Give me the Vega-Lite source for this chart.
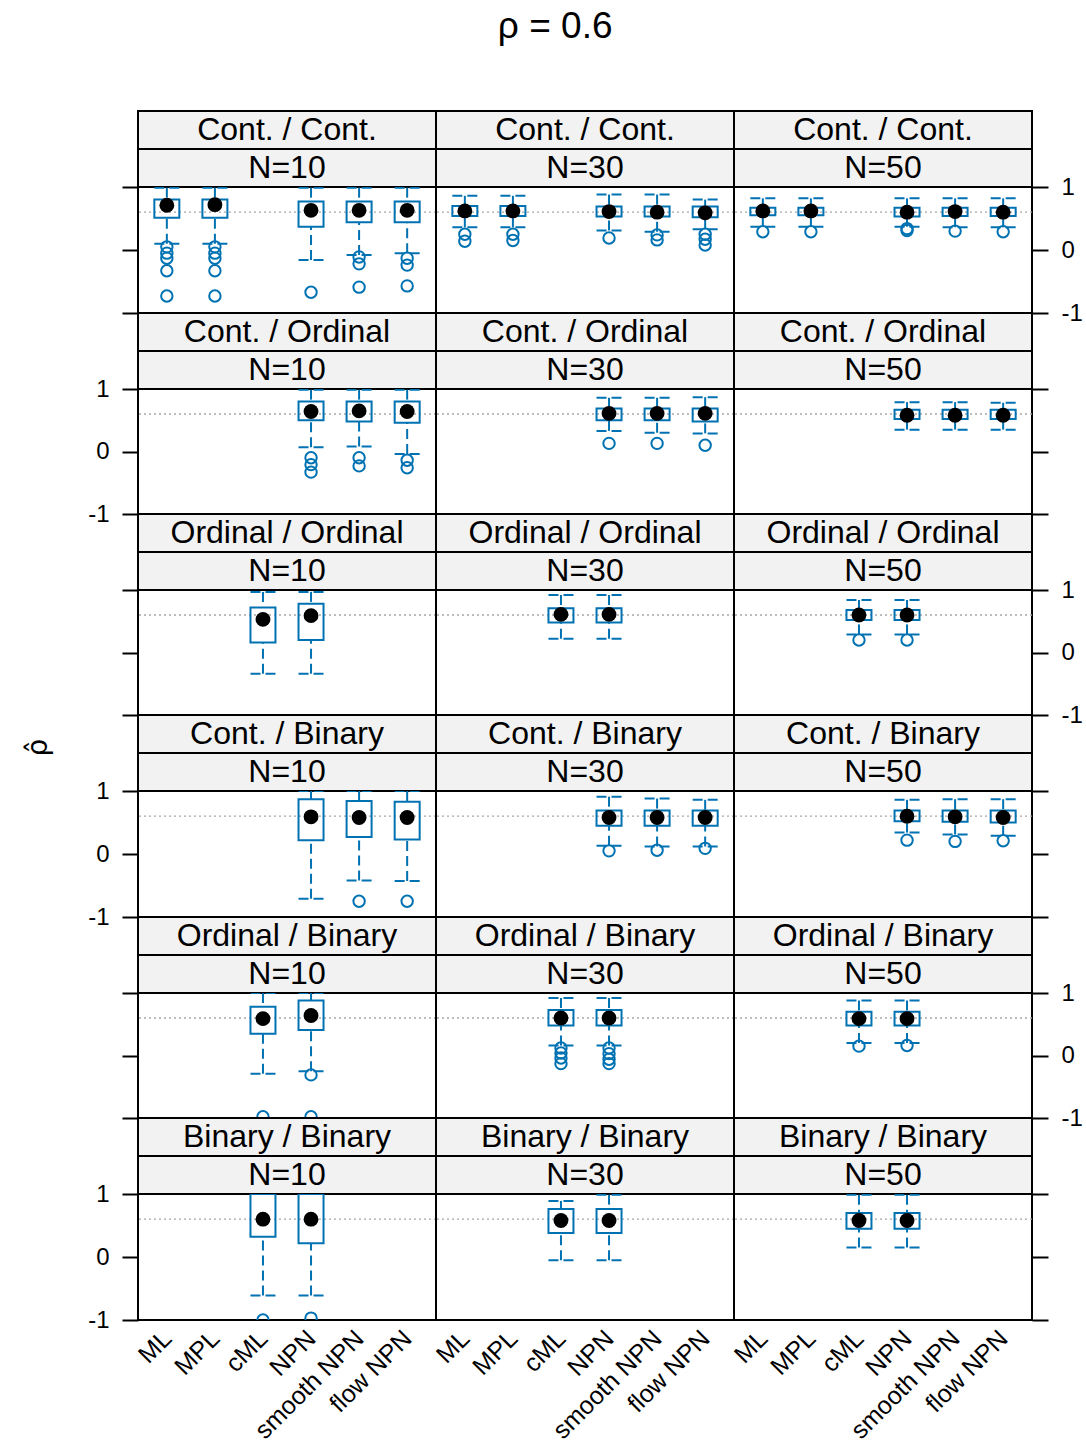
{
"$schema": "https://vega.github.io/schema/vega-lite/v6.json",
"padding": {"left": 23, "top": 8, "right": 2, "bottom": 0},
"title": {"text": "ρ = 0.6", "fontSize": 37, "fontWeight": "normal", "color": "black", "offset": 35, "baseline": "alphabetic", "anchor": "middle", "dx": 2},
"datasets": {
"boxes": [
{"p":"1-0","m":"ML","lo":0.10,"q1":0.51,"med":0.71,"q3":0.80,"hi":0.99},
{"p":"1-0","m":"MPL","lo":0.10,"q1":0.51,"med":0.72,"q3":0.80,"hi":0.99},
{"p":"1-0","m":"NPN","lo":-0.16,"q1":0.37,"med":0.63,"q3":0.77,"hi":0.99},
{"p":"1-0","m":"smooth NPN","lo":-0.08,"q1":0.44,"med":0.63,"q3":0.77,"hi":0.99},
{"p":"1-0","m":"flow NPN","lo":-0.05,"q1":0.44,"med":0.63,"q3":0.77,"hi":0.99},
{"p":"1-1","m":"ML","lo":0.36,"q1":0.54,"med":0.62,"q3":0.70,"hi":0.86},
{"p":"1-1","m":"MPL","lo":0.36,"q1":0.54,"med":0.62,"q3":0.70,"hi":0.86},
{"p":"1-1","m":"NPN","lo":0.31,"q1":0.53,"med":0.61,"q3":0.69,"hi":0.88},
{"p":"1-1","m":"smooth NPN","lo":0.29,"q1":0.53,"med":0.60,"q3":0.69,"hi":0.88},
{"p":"1-1","m":"flow NPN","lo":0.33,"q1":0.52,"med":0.59,"q3":0.69,"hi":0.80},
{"p":"1-2","m":"ML","lo":0.37,"q1":0.55,"med":0.62,"q3":0.67,"hi":0.82},
{"p":"1-2","m":"MPL","lo":0.37,"q1":0.55,"med":0.62,"q3":0.67,"hi":0.82},
{"p":"1-2","m":"NPN","lo":0.37,"q1":0.53,"med":0.60,"q3":0.67,"hi":0.82},
{"p":"1-2","m":"smooth NPN","lo":0.36,"q1":0.54,"med":0.61,"q3":0.67,"hi":0.82},
{"p":"1-2","m":"flow NPN","lo":0.36,"q1":0.54,"med":0.60,"q3":0.67,"hi":0.82},
{"p":"2-0","m":"NPN","lo":0.07,"q1":0.50,"med":0.64,"q3":0.80,"hi":0.99},
{"p":"2-0","m":"smooth NPN","lo":0.08,"q1":0.48,"med":0.65,"q3":0.80,"hi":0.99},
{"p":"2-0","m":"flow NPN","lo":-0.04,"q1":0.46,"med":0.64,"q3":0.80,"hi":0.99},
{"p":"2-1","m":"NPN","lo":0.33,"q1":0.50,"med":0.61,"q3":0.69,"hi":0.86},
{"p":"2-1","m":"smooth NPN","lo":0.30,"q1":0.50,"med":0.61,"q3":0.69,"hi":0.86},
{"p":"2-1","m":"flow NPN","lo":0.29,"q1":0.48,"med":0.61,"q3":0.69,"hi":0.87},
{"p":"2-2","m":"NPN","lo":0.35,"q1":0.52,"med":0.58,"q3":0.67,"hi":0.79},
{"p":"2-2","m":"smooth NPN","lo":0.35,"q1":0.52,"med":0.58,"q3":0.67,"hi":0.79},
{"p":"2-2","m":"flow NPN","lo":0.35,"q1":0.52,"med":0.58,"q3":0.67,"hi":0.78},
{"p":"3-0","m":"cML","lo":-0.34,"q1":0.16,"med":0.53,"q3":0.72,"hi":0.97},
{"p":"3-0","m":"NPN","lo":-0.34,"q1":0.20,"med":0.59,"q3":0.78,"hi":0.97},
{"p":"3-1","m":"cML","lo":0.22,"q1":0.48,"med":0.61,"q3":0.71,"hi":0.92},
{"p":"3-1","m":"NPN","lo":0.22,"q1":0.48,"med":0.61,"q3":0.71,"hi":0.92},
{"p":"3-2","m":"cML","lo":0.29,"q1":0.52,"med":0.60,"q3":0.68,"hi":0.84},
{"p":"3-2","m":"NPN","lo":0.29,"q1":0.52,"med":0.60,"q3":0.68,"hi":0.84},
{"p":"4-0","m":"NPN","lo":-0.71,"q1":0.22,"med":0.59,"q3":0.87,"hi":1.0},
{"p":"4-0","m":"smooth NPN","lo":-0.42,"q1":0.27,"med":0.58,"q3":0.84,"hi":1.0},
{"p":"4-0","m":"flow NPN","lo":-0.43,"q1":0.23,"med":0.58,"q3":0.83,"hi":1.0},
{"p":"4-1","m":"NPN","lo":0.13,"q1":0.45,"med":0.58,"q3":0.69,"hi":0.91},
{"p":"4-1","m":"smooth NPN","lo":0.12,"q1":0.45,"med":0.58,"q3":0.69,"hi":0.88},
{"p":"4-1","m":"flow NPN","lo":0.12,"q1":0.45,"med":0.58,"q3":0.69,"hi":0.86},
{"p":"4-2","m":"NPN","lo":0.34,"q1":0.52,"med":0.60,"q3":0.69,"hi":0.86},
{"p":"4-2","m":"smooth NPN","lo":0.31,"q1":0.51,"med":0.59,"q3":0.69,"hi":0.87},
{"p":"4-2","m":"flow NPN","lo":0.29,"q1":0.50,"med":0.58,"q3":0.69,"hi":0.87},
{"p":"5-0","m":"cML","lo":-0.29,"q1":0.35,"med":0.59,"q3":0.78,"hi":1.0},
{"p":"5-0","m":"NPN","lo":-0.25,"q1":0.41,"med":0.64,"q3":0.88,"hi":1.0},
{"p":"5-1","m":"cML","lo":0.16,"q1":0.48,"med":0.60,"q3":0.73,"hi":0.92},
{"p":"5-1","m":"NPN","lo":0.16,"q1":0.48,"med":0.60,"q3":0.73,"hi":0.92},
{"p":"5-2","m":"cML","lo":0.20,"q1":0.48,"med":0.59,"q3":0.70,"hi":0.88},
{"p":"5-2","m":"NPN","lo":0.20,"q1":0.48,"med":0.59,"q3":0.70,"hi":0.88},
{"p":"6-0","m":"cML","lo":-0.61,"q1":0.32,"med":0.60,"q3":1.0,"hi":1.0},
{"p":"6-0","m":"NPN","lo":-0.61,"q1":0.22,"med":0.60,"q3":1.0,"hi":1.0},
{"p":"6-1","m":"cML","lo":-0.05,"q1":0.38,"med":0.58,"q3":0.76,"hi":0.89},
{"p":"6-1","m":"NPN","lo":-0.05,"q1":0.38,"med":0.58,"q3":0.76,"hi":0.99},
{"p":"6-2","m":"cML","lo":0.15,"q1":0.45,"med":0.58,"q3":0.70,"hi":0.99},
{"p":"6-2","m":"NPN","lo":0.15,"q1":0.45,"med":0.58,"q3":0.70,"hi":0.99}
],
"outs": [
{"p":"1-0","m":"ML","v":0.05},{"p":"1-0","m":"ML","v":-0.05},{"p":"1-0","m":"ML","v":-0.13},{"p":"1-0","m":"ML","v":-0.33},{"p":"1-0","m":"ML","v":-0.73},
{"p":"1-0","m":"MPL","v":0.05},{"p":"1-0","m":"MPL","v":-0.05},{"p":"1-0","m":"MPL","v":-0.13},{"p":"1-0","m":"MPL","v":-0.33},{"p":"1-0","m":"MPL","v":-0.73},
{"p":"1-0","m":"NPN","v":-0.67},
{"p":"1-0","m":"smooth NPN","v":-0.11},{"p":"1-0","m":"smooth NPN","v":-0.22},{"p":"1-0","m":"smooth NPN","v":-0.59},
{"p":"1-0","m":"flow NPN","v":-0.13},{"p":"1-0","m":"flow NPN","v":-0.24},{"p":"1-0","m":"flow NPN","v":-0.57},
{"p":"1-1","m":"ML","v":0.25},{"p":"1-1","m":"ML","v":0.14},
{"p":"1-1","m":"MPL","v":0.25},{"p":"1-1","m":"MPL","v":0.15},
{"p":"1-1","m":"NPN","v":0.19},
{"p":"1-1","m":"smooth NPN","v":0.24},{"p":"1-1","m":"smooth NPN","v":0.16},
{"p":"1-1","m":"flow NPN","v":0.25},{"p":"1-1","m":"flow NPN","v":0.17},{"p":"1-1","m":"flow NPN","v":0.08},
{"p":"1-2","m":"ML","v":0.29},{"p":"1-2","m":"MPL","v":0.29},
{"p":"1-2","m":"NPN","v":0.34},{"p":"1-2","m":"NPN","v":0.31},
{"p":"1-2","m":"smooth NPN","v":0.30},{"p":"1-2","m":"flow NPN","v":0.29},
{"p":"2-0","m":"NPN","v":-0.10},{"p":"2-0","m":"NPN","v":-0.21},{"p":"2-0","m":"NPN","v":-0.33},
{"p":"2-0","m":"smooth NPN","v":-0.10},{"p":"2-0","m":"smooth NPN","v":-0.23},
{"p":"2-0","m":"flow NPN","v":-0.14},{"p":"2-0","m":"flow NPN","v":-0.26},
{"p":"2-1","m":"NPN","v":0.13},{"p":"2-1","m":"smooth NPN","v":0.13},{"p":"2-1","m":"flow NPN","v":0.10},
{"p":"3-2","m":"cML","v":0.20},{"p":"3-2","m":"NPN","v":0.20},
{"p":"4-0","m":"smooth NPN","v":-0.75},{"p":"4-0","m":"flow NPN","v":-0.75},
{"p":"4-1","m":"NPN","v":0.05},{"p":"4-1","m":"smooth NPN","v":0.06},{"p":"4-1","m":"flow NPN","v":0.09},
{"p":"4-2","m":"NPN","v":0.22},{"p":"4-2","m":"smooth NPN","v":0.20},{"p":"4-2","m":"flow NPN","v":0.21},
{"p":"5-0","m":"cML","v":-0.98},{"p":"5-0","m":"NPN","v":-0.31},{"p":"5-0","m":"NPN","v":-0.98},
{"p":"5-1","m":"cML","v":0.12},{"p":"5-1","m":"cML","v":0.04},{"p":"5-1","m":"cML","v":-0.04},{"p":"5-1","m":"cML","v":-0.13},
{"p":"5-1","m":"NPN","v":0.12},{"p":"5-1","m":"NPN","v":0.03},{"p":"5-1","m":"NPN","v":-0.06},{"p":"5-1","m":"NPN","v":-0.13},
{"p":"5-2","m":"cML","v":0.15},{"p":"5-2","m":"NPN","v":0.16},
{"p":"6-0","m":"cML","v":-1.0},{"p":"6-0","m":"NPN","v":-0.97}
]
},
"columns": 3,
"spacing": 0,
"bounds": "flush",
"concat": [
{"width":298,"height":38,"view":{"fill":"#f2f2f2","stroke":"black","strokeWidth":2},"data":{"values":[{}]},"mark":{"type":"text","text":"Cont. / Cont.","fontSize":32,"color":"black"}},
{"width":298,"height":38,"view":{"fill":"#f2f2f2","stroke":"black","strokeWidth":2},"data":{"values":[{}]},"mark":{"type":"text","text":"Cont. / Cont.","fontSize":32,"color":"black"}},
{"width":298,"height":38,"view":{"fill":"#f2f2f2","stroke":"black","strokeWidth":2},"data":{"values":[{}]},"mark":{"type":"text","text":"Cont. / Cont.","fontSize":32,"color":"black"}},
{"width":298,"height":38,"view":{"fill":"#f2f2f2","stroke":"black","strokeWidth":2},"data":{"values":[{}]},"mark":{"type":"text","text":"N=10","fontSize":32,"color":"black"}},
{"width":298,"height":38,"view":{"fill":"#f2f2f2","stroke":"black","strokeWidth":2},"data":{"values":[{}]},"mark":{"type":"text","text":"N=30","fontSize":32,"color":"black"}},
{"width":298,"height":38,"view":{"fill":"#f2f2f2","stroke":"black","strokeWidth":2},"data":{"values":[{}]},"mark":{"type":"text","text":"N=50","fontSize":32,"color":"black"}},
{"width":298,"height":126,"layer":[
{"data":{"values":[{}]},"mark":{"type":"rule","color":"#a6a6a6","strokeWidth":1.3,"strokeDash":[2,3]},"encoding":{"y":{"datum":0.6,"type":"quantitative","scale":{"domain":[-1,1],"nice":false,"zero":false},"axis":{"orient":"left","values":[-1,0,1],"labels":false,"title":null}}}},
{"data":{"name":"boxes"},"transform":[{"filter":"datum.p=='1-0'"}],"encoding":{"x":{"field":"m","type":"nominal","scale":{"type":"point","domain":["ML","MPL","cML","NPN","smooth NPN","flow NPN"],"padding":0.6},"axis":null}},"layer":[
{"mark":{"type":"rule","color":"#0072B2","strokeWidth":2,"strokeDash":[10,5],"clip":true},"encoding":{"y":{"field":"hi","type":"quantitative"},"y2":{"field":"q3"}}},
{"mark":{"type":"rule","color":"#0072B2","strokeWidth":2,"strokeDash":[10,5],"clip":true},"encoding":{"y":{"field":"lo","type":"quantitative"},"y2":{"field":"q1"}}},
{"mark":{"type":"rule","color":"#0072B2","strokeWidth":2,"strokeDash":[10,5],"xOffset":-12.5,"x2Offset":12.5,"clip":true},"encoding":{"x2":{"field":"m"},"y":{"field":"hi","type":"quantitative"}}},
{"mark":{"type":"rule","color":"#0072B2","strokeWidth":2,"strokeDash":[10,5],"xOffset":-12.5,"x2Offset":12.5,"clip":true},"encoding":{"x2":{"field":"m"},"y":{"field":"lo","type":"quantitative"}}},
{"mark":{"type":"bar","size":25,"fill":"white","fillOpacity":0,"stroke":"#0072B2","strokeWidth":2,"clip":true},"encoding":{"y":{"field":"q1","type":"quantitative"},"y2":{"field":"q3"}}},
{"mark":{"type":"point","shape":"circle","filled":true,"color":"black","opacity":1,"size":220,"clip":true},"encoding":{"y":{"field":"med","type":"quantitative"}}}
]},
{"data":{"name":"outs"},"transform":[{"filter":"datum.p=='1-0'"}],"mark":{"type":"point","shape":"circle","filled":false,"color":"#0072B2","strokeWidth":2,"opacity":1,"size":130,"clip":true},"encoding":{"x":{"field":"m","type":"nominal","axis":null},"y":{"field":"v","type":"quantitative"}}}
]},
{"width":298,"height":126,"layer":[
{"data":{"values":[{}]},"mark":{"type":"rule","color":"#a6a6a6","strokeWidth":1.3,"strokeDash":[2,3]},"encoding":{"y":{"datum":0.6,"type":"quantitative","scale":{"domain":[-1,1],"nice":false,"zero":false},"axis":null}}},
{"data":{"name":"boxes"},"transform":[{"filter":"datum.p=='1-1'"}],"encoding":{"x":{"field":"m","type":"nominal","scale":{"type":"point","domain":["ML","MPL","cML","NPN","smooth NPN","flow NPN"],"padding":0.6},"axis":null}},"layer":[
{"mark":{"type":"rule","color":"#0072B2","strokeWidth":2,"strokeDash":[10,5],"clip":true},"encoding":{"y":{"field":"hi","type":"quantitative","axis":null},"y2":{"field":"q3"}}},
{"mark":{"type":"rule","color":"#0072B2","strokeWidth":2,"strokeDash":[10,5],"clip":true},"encoding":{"y":{"field":"lo","type":"quantitative","axis":null},"y2":{"field":"q1"}}},
{"mark":{"type":"rule","color":"#0072B2","strokeWidth":2,"strokeDash":[10,5],"xOffset":-12.5,"x2Offset":12.5,"clip":true},"encoding":{"x2":{"field":"m"},"y":{"field":"hi","type":"quantitative","axis":null}}},
{"mark":{"type":"rule","color":"#0072B2","strokeWidth":2,"strokeDash":[10,5],"xOffset":-12.5,"x2Offset":12.5,"clip":true},"encoding":{"x2":{"field":"m"},"y":{"field":"lo","type":"quantitative","axis":null}}},
{"mark":{"type":"bar","size":25,"fill":"white","fillOpacity":0,"stroke":"#0072B2","strokeWidth":2,"clip":true},"encoding":{"y":{"field":"q1","type":"quantitative","axis":null},"y2":{"field":"q3"}}},
{"mark":{"type":"point","shape":"circle","filled":true,"color":"black","opacity":1,"size":220,"clip":true},"encoding":{"y":{"field":"med","type":"quantitative","axis":null}}}
]},
{"data":{"name":"outs"},"transform":[{"filter":"datum.p=='1-1'"}],"mark":{"type":"point","shape":"circle","filled":false,"color":"#0072B2","strokeWidth":2,"opacity":1,"size":130,"clip":true},"encoding":{"x":{"field":"m","type":"nominal","axis":null},"y":{"field":"v","type":"quantitative","axis":null}}}
]},
{"width":298,"height":126,"layer":[
{"data":{"values":[{}]},"mark":{"type":"rule","color":"#a6a6a6","strokeWidth":1.3,"strokeDash":[2,3]},"encoding":{"y":{"datum":0.6,"type":"quantitative","scale":{"domain":[-1,1],"nice":false,"zero":false},"axis":{"orient":"right","values":[-1,0,1],"title":null}}}},
{"data":{"name":"boxes"},"transform":[{"filter":"datum.p=='1-2'"}],"encoding":{"x":{"field":"m","type":"nominal","scale":{"type":"point","domain":["ML","MPL","cML","NPN","smooth NPN","flow NPN"],"padding":0.6},"axis":null}},"layer":[
{"mark":{"type":"rule","color":"#0072B2","strokeWidth":2,"strokeDash":[10,5],"clip":true},"encoding":{"y":{"field":"hi","type":"quantitative"},"y2":{"field":"q3"}}},
{"mark":{"type":"rule","color":"#0072B2","strokeWidth":2,"strokeDash":[10,5],"clip":true},"encoding":{"y":{"field":"lo","type":"quantitative"},"y2":{"field":"q1"}}},
{"mark":{"type":"rule","color":"#0072B2","strokeWidth":2,"strokeDash":[10,5],"xOffset":-12.5,"x2Offset":12.5,"clip":true},"encoding":{"x2":{"field":"m"},"y":{"field":"hi","type":"quantitative"}}},
{"mark":{"type":"rule","color":"#0072B2","strokeWidth":2,"strokeDash":[10,5],"xOffset":-12.5,"x2Offset":12.5,"clip":true},"encoding":{"x2":{"field":"m"},"y":{"field":"lo","type":"quantitative"}}},
{"mark":{"type":"bar","size":25,"fill":"white","fillOpacity":0,"stroke":"#0072B2","strokeWidth":2,"clip":true},"encoding":{"y":{"field":"q1","type":"quantitative"},"y2":{"field":"q3"}}},
{"mark":{"type":"point","shape":"circle","filled":true,"color":"black","opacity":1,"size":220,"clip":true},"encoding":{"y":{"field":"med","type":"quantitative"}}}
]},
{"data":{"name":"outs"},"transform":[{"filter":"datum.p=='1-2'"}],"mark":{"type":"point","shape":"circle","filled":false,"color":"#0072B2","strokeWidth":2,"opacity":1,"size":130,"clip":true},"encoding":{"x":{"field":"m","type":"nominal","axis":null},"y":{"field":"v","type":"quantitative"}}}
]},
{"width":298,"height":38,"view":{"fill":"#f2f2f2","stroke":"black","strokeWidth":2},"data":{"values":[{}]},"mark":{"type":"text","text":"Cont. / Ordinal","fontSize":32,"color":"black"}},
{"width":298,"height":38,"view":{"fill":"#f2f2f2","stroke":"black","strokeWidth":2},"data":{"values":[{}]},"mark":{"type":"text","text":"Cont. / Ordinal","fontSize":32,"color":"black"}},
{"width":298,"height":38,"view":{"fill":"#f2f2f2","stroke":"black","strokeWidth":2},"data":{"values":[{}]},"mark":{"type":"text","text":"Cont. / Ordinal","fontSize":32,"color":"black"}},
{"width":298,"height":38,"view":{"fill":"#f2f2f2","stroke":"black","strokeWidth":2},"data":{"values":[{}]},"mark":{"type":"text","text":"N=10","fontSize":32,"color":"black"}},
{"width":298,"height":38,"view":{"fill":"#f2f2f2","stroke":"black","strokeWidth":2},"data":{"values":[{}]},"mark":{"type":"text","text":"N=30","fontSize":32,"color":"black"}},
{"width":298,"height":38,"view":{"fill":"#f2f2f2","stroke":"black","strokeWidth":2},"data":{"values":[{}]},"mark":{"type":"text","text":"N=50","fontSize":32,"color":"black"}},
{"width":298,"height":125,"layer":[
{"data":{"values":[{}]},"mark":{"type":"rule","color":"#a6a6a6","strokeWidth":1.3,"strokeDash":[2,3]},"encoding":{"y":{"datum":0.6,"type":"quantitative","scale":{"domain":[-1,1],"nice":false,"zero":false},"axis":{"orient":"left","values":[-1,0,1],"title":null}}}},
{"data":{"name":"boxes"},"transform":[{"filter":"datum.p=='2-0'"}],"encoding":{"x":{"field":"m","type":"nominal","scale":{"type":"point","domain":["ML","MPL","cML","NPN","smooth NPN","flow NPN"],"padding":0.6},"axis":null}},"layer":[
{"mark":{"type":"rule","color":"#0072B2","strokeWidth":2,"strokeDash":[10,5],"clip":true},"encoding":{"y":{"field":"hi","type":"quantitative"},"y2":{"field":"q3"}}},
{"mark":{"type":"rule","color":"#0072B2","strokeWidth":2,"strokeDash":[10,5],"clip":true},"encoding":{"y":{"field":"lo","type":"quantitative"},"y2":{"field":"q1"}}},
{"mark":{"type":"rule","color":"#0072B2","strokeWidth":2,"strokeDash":[10,5],"xOffset":-12.5,"x2Offset":12.5,"clip":true},"encoding":{"x2":{"field":"m"},"y":{"field":"hi","type":"quantitative"}}},
{"mark":{"type":"rule","color":"#0072B2","strokeWidth":2,"strokeDash":[10,5],"xOffset":-12.5,"x2Offset":12.5,"clip":true},"encoding":{"x2":{"field":"m"},"y":{"field":"lo","type":"quantitative"}}},
{"mark":{"type":"bar","size":25,"fill":"white","fillOpacity":0,"stroke":"#0072B2","strokeWidth":2,"clip":true},"encoding":{"y":{"field":"q1","type":"quantitative"},"y2":{"field":"q3"}}},
{"mark":{"type":"point","shape":"circle","filled":true,"color":"black","opacity":1,"size":220,"clip":true},"encoding":{"y":{"field":"med","type":"quantitative"}}}
]},
{"data":{"name":"outs"},"transform":[{"filter":"datum.p=='2-0'"}],"mark":{"type":"point","shape":"circle","filled":false,"color":"#0072B2","strokeWidth":2,"opacity":1,"size":130,"clip":true},"encoding":{"x":{"field":"m","type":"nominal","axis":null},"y":{"field":"v","type":"quantitative"}}}
]},
{"width":298,"height":125,"layer":[
{"data":{"values":[{}]},"mark":{"type":"rule","color":"#a6a6a6","strokeWidth":1.3,"strokeDash":[2,3]},"encoding":{"y":{"datum":0.6,"type":"quantitative","scale":{"domain":[-1,1],"nice":false,"zero":false},"axis":null}}},
{"data":{"name":"boxes"},"transform":[{"filter":"datum.p=='2-1'"}],"encoding":{"x":{"field":"m","type":"nominal","scale":{"type":"point","domain":["ML","MPL","cML","NPN","smooth NPN","flow NPN"],"padding":0.6},"axis":null}},"layer":[
{"mark":{"type":"rule","color":"#0072B2","strokeWidth":2,"strokeDash":[10,5],"clip":true},"encoding":{"y":{"field":"hi","type":"quantitative","axis":null},"y2":{"field":"q3"}}},
{"mark":{"type":"rule","color":"#0072B2","strokeWidth":2,"strokeDash":[10,5],"clip":true},"encoding":{"y":{"field":"lo","type":"quantitative","axis":null},"y2":{"field":"q1"}}},
{"mark":{"type":"rule","color":"#0072B2","strokeWidth":2,"strokeDash":[10,5],"xOffset":-12.5,"x2Offset":12.5,"clip":true},"encoding":{"x2":{"field":"m"},"y":{"field":"hi","type":"quantitative","axis":null}}},
{"mark":{"type":"rule","color":"#0072B2","strokeWidth":2,"strokeDash":[10,5],"xOffset":-12.5,"x2Offset":12.5,"clip":true},"encoding":{"x2":{"field":"m"},"y":{"field":"lo","type":"quantitative","axis":null}}},
{"mark":{"type":"bar","size":25,"fill":"white","fillOpacity":0,"stroke":"#0072B2","strokeWidth":2,"clip":true},"encoding":{"y":{"field":"q1","type":"quantitative","axis":null},"y2":{"field":"q3"}}},
{"mark":{"type":"point","shape":"circle","filled":true,"color":"black","opacity":1,"size":220,"clip":true},"encoding":{"y":{"field":"med","type":"quantitative","axis":null}}}
]},
{"data":{"name":"outs"},"transform":[{"filter":"datum.p=='2-1'"}],"mark":{"type":"point","shape":"circle","filled":false,"color":"#0072B2","strokeWidth":2,"opacity":1,"size":130,"clip":true},"encoding":{"x":{"field":"m","type":"nominal","axis":null},"y":{"field":"v","type":"quantitative","axis":null}}}
]},
{"width":298,"height":125,"layer":[
{"data":{"values":[{}]},"mark":{"type":"rule","color":"#a6a6a6","strokeWidth":1.3,"strokeDash":[2,3]},"encoding":{"y":{"datum":0.6,"type":"quantitative","scale":{"domain":[-1,1],"nice":false,"zero":false},"axis":{"orient":"right","values":[-1,0,1],"labels":false,"title":null}}}},
{"data":{"name":"boxes"},"transform":[{"filter":"datum.p=='2-2'"}],"encoding":{"x":{"field":"m","type":"nominal","scale":{"type":"point","domain":["ML","MPL","cML","NPN","smooth NPN","flow NPN"],"padding":0.6},"axis":null}},"layer":[
{"mark":{"type":"rule","color":"#0072B2","strokeWidth":2,"strokeDash":[10,5],"clip":true},"encoding":{"y":{"field":"hi","type":"quantitative"},"y2":{"field":"q3"}}},
{"mark":{"type":"rule","color":"#0072B2","strokeWidth":2,"strokeDash":[10,5],"clip":true},"encoding":{"y":{"field":"lo","type":"quantitative"},"y2":{"field":"q1"}}},
{"mark":{"type":"rule","color":"#0072B2","strokeWidth":2,"strokeDash":[10,5],"xOffset":-12.5,"x2Offset":12.5,"clip":true},"encoding":{"x2":{"field":"m"},"y":{"field":"hi","type":"quantitative"}}},
{"mark":{"type":"rule","color":"#0072B2","strokeWidth":2,"strokeDash":[10,5],"xOffset":-12.5,"x2Offset":12.5,"clip":true},"encoding":{"x2":{"field":"m"},"y":{"field":"lo","type":"quantitative"}}},
{"mark":{"type":"bar","size":25,"fill":"white","fillOpacity":0,"stroke":"#0072B2","strokeWidth":2,"clip":true},"encoding":{"y":{"field":"q1","type":"quantitative"},"y2":{"field":"q3"}}},
{"mark":{"type":"point","shape":"circle","filled":true,"color":"black","opacity":1,"size":220,"clip":true},"encoding":{"y":{"field":"med","type":"quantitative"}}}
]},
{"data":{"name":"outs"},"transform":[{"filter":"datum.p=='2-2'"}],"mark":{"type":"point","shape":"circle","filled":false,"color":"#0072B2","strokeWidth":2,"opacity":1,"size":130,"clip":true},"encoding":{"x":{"field":"m","type":"nominal","axis":null},"y":{"field":"v","type":"quantitative"}}}
]},
{"width":298,"height":38,"view":{"fill":"#f2f2f2","stroke":"black","strokeWidth":2},"data":{"values":[{}]},"mark":{"type":"text","text":"Ordinal / Ordinal","fontSize":32,"color":"black"}},
{"width":298,"height":38,"view":{"fill":"#f2f2f2","stroke":"black","strokeWidth":2},"data":{"values":[{}]},"mark":{"type":"text","text":"Ordinal / Ordinal","fontSize":32,"color":"black"}},
{"width":298,"height":38,"view":{"fill":"#f2f2f2","stroke":"black","strokeWidth":2},"data":{"values":[{}]},"mark":{"type":"text","text":"Ordinal / Ordinal","fontSize":32,"color":"black"}},
{"width":298,"height":38,"view":{"fill":"#f2f2f2","stroke":"black","strokeWidth":2},"data":{"values":[{}]},"mark":{"type":"text","text":"N=10","fontSize":32,"color":"black"}},
{"width":298,"height":38,"view":{"fill":"#f2f2f2","stroke":"black","strokeWidth":2},"data":{"values":[{}]},"mark":{"type":"text","text":"N=30","fontSize":32,"color":"black"}},
{"width":298,"height":38,"view":{"fill":"#f2f2f2","stroke":"black","strokeWidth":2},"data":{"values":[{}]},"mark":{"type":"text","text":"N=50","fontSize":32,"color":"black"}},
{"width":298,"height":125,"layer":[
{"data":{"values":[{}]},"mark":{"type":"rule","color":"#a6a6a6","strokeWidth":1.3,"strokeDash":[2,3]},"encoding":{"y":{"datum":0.6,"type":"quantitative","scale":{"domain":[-1,1],"nice":false,"zero":false},"axis":{"orient":"left","values":[-1,0,1],"labels":false,"title":null}}}},
{"data":{"name":"boxes"},"transform":[{"filter":"datum.p=='3-0'"}],"encoding":{"x":{"field":"m","type":"nominal","scale":{"type":"point","domain":["ML","MPL","cML","NPN","smooth NPN","flow NPN"],"padding":0.6},"axis":null}},"layer":[
{"mark":{"type":"rule","color":"#0072B2","strokeWidth":2,"strokeDash":[10,5],"clip":true},"encoding":{"y":{"field":"hi","type":"quantitative"},"y2":{"field":"q3"}}},
{"mark":{"type":"rule","color":"#0072B2","strokeWidth":2,"strokeDash":[10,5],"clip":true},"encoding":{"y":{"field":"lo","type":"quantitative"},"y2":{"field":"q1"}}},
{"mark":{"type":"rule","color":"#0072B2","strokeWidth":2,"strokeDash":[10,5],"xOffset":-12.5,"x2Offset":12.5,"clip":true},"encoding":{"x2":{"field":"m"},"y":{"field":"hi","type":"quantitative"}}},
{"mark":{"type":"rule","color":"#0072B2","strokeWidth":2,"strokeDash":[10,5],"xOffset":-12.5,"x2Offset":12.5,"clip":true},"encoding":{"x2":{"field":"m"},"y":{"field":"lo","type":"quantitative"}}},
{"mark":{"type":"bar","size":25,"fill":"white","fillOpacity":0,"stroke":"#0072B2","strokeWidth":2,"clip":true},"encoding":{"y":{"field":"q1","type":"quantitative"},"y2":{"field":"q3"}}},
{"mark":{"type":"point","shape":"circle","filled":true,"color":"black","opacity":1,"size":220,"clip":true},"encoding":{"y":{"field":"med","type":"quantitative"}}}
]},
{"data":{"name":"outs"},"transform":[{"filter":"datum.p=='3-0'"}],"mark":{"type":"point","shape":"circle","filled":false,"color":"#0072B2","strokeWidth":2,"opacity":1,"size":130,"clip":true},"encoding":{"x":{"field":"m","type":"nominal","axis":null},"y":{"field":"v","type":"quantitative"}}}
]},
{"width":298,"height":125,"layer":[
{"data":{"values":[{}]},"mark":{"type":"rule","color":"#a6a6a6","strokeWidth":1.3,"strokeDash":[2,3]},"encoding":{"y":{"datum":0.6,"type":"quantitative","scale":{"domain":[-1,1],"nice":false,"zero":false},"axis":null}}},
{"data":{"name":"boxes"},"transform":[{"filter":"datum.p=='3-1'"}],"encoding":{"x":{"field":"m","type":"nominal","scale":{"type":"point","domain":["ML","MPL","cML","NPN","smooth NPN","flow NPN"],"padding":0.6},"axis":null}},"layer":[
{"mark":{"type":"rule","color":"#0072B2","strokeWidth":2,"strokeDash":[10,5],"clip":true},"encoding":{"y":{"field":"hi","type":"quantitative","axis":null},"y2":{"field":"q3"}}},
{"mark":{"type":"rule","color":"#0072B2","strokeWidth":2,"strokeDash":[10,5],"clip":true},"encoding":{"y":{"field":"lo","type":"quantitative","axis":null},"y2":{"field":"q1"}}},
{"mark":{"type":"rule","color":"#0072B2","strokeWidth":2,"strokeDash":[10,5],"xOffset":-12.5,"x2Offset":12.5,"clip":true},"encoding":{"x2":{"field":"m"},"y":{"field":"hi","type":"quantitative","axis":null}}},
{"mark":{"type":"rule","color":"#0072B2","strokeWidth":2,"strokeDash":[10,5],"xOffset":-12.5,"x2Offset":12.5,"clip":true},"encoding":{"x2":{"field":"m"},"y":{"field":"lo","type":"quantitative","axis":null}}},
{"mark":{"type":"bar","size":25,"fill":"white","fillOpacity":0,"stroke":"#0072B2","strokeWidth":2,"clip":true},"encoding":{"y":{"field":"q1","type":"quantitative","axis":null},"y2":{"field":"q3"}}},
{"mark":{"type":"point","shape":"circle","filled":true,"color":"black","opacity":1,"size":220,"clip":true},"encoding":{"y":{"field":"med","type":"quantitative","axis":null}}}
]},
{"data":{"name":"outs"},"transform":[{"filter":"datum.p=='3-1'"}],"mark":{"type":"point","shape":"circle","filled":false,"color":"#0072B2","strokeWidth":2,"opacity":1,"size":130,"clip":true},"encoding":{"x":{"field":"m","type":"nominal","axis":null},"y":{"field":"v","type":"quantitative","axis":null}}}
]},
{"width":298,"height":125,"layer":[
{"data":{"values":[{}]},"mark":{"type":"rule","color":"#a6a6a6","strokeWidth":1.3,"strokeDash":[2,3]},"encoding":{"y":{"datum":0.6,"type":"quantitative","scale":{"domain":[-1,1],"nice":false,"zero":false},"axis":{"orient":"right","values":[-1,0,1],"title":null}}}},
{"data":{"name":"boxes"},"transform":[{"filter":"datum.p=='3-2'"}],"encoding":{"x":{"field":"m","type":"nominal","scale":{"type":"point","domain":["ML","MPL","cML","NPN","smooth NPN","flow NPN"],"padding":0.6},"axis":null}},"layer":[
{"mark":{"type":"rule","color":"#0072B2","strokeWidth":2,"strokeDash":[10,5],"clip":true},"encoding":{"y":{"field":"hi","type":"quantitative"},"y2":{"field":"q3"}}},
{"mark":{"type":"rule","color":"#0072B2","strokeWidth":2,"strokeDash":[10,5],"clip":true},"encoding":{"y":{"field":"lo","type":"quantitative"},"y2":{"field":"q1"}}},
{"mark":{"type":"rule","color":"#0072B2","strokeWidth":2,"strokeDash":[10,5],"xOffset":-12.5,"x2Offset":12.5,"clip":true},"encoding":{"x2":{"field":"m"},"y":{"field":"hi","type":"quantitative"}}},
{"mark":{"type":"rule","color":"#0072B2","strokeWidth":2,"strokeDash":[10,5],"xOffset":-12.5,"x2Offset":12.5,"clip":true},"encoding":{"x2":{"field":"m"},"y":{"field":"lo","type":"quantitative"}}},
{"mark":{"type":"bar","size":25,"fill":"white","fillOpacity":0,"stroke":"#0072B2","strokeWidth":2,"clip":true},"encoding":{"y":{"field":"q1","type":"quantitative"},"y2":{"field":"q3"}}},
{"mark":{"type":"point","shape":"circle","filled":true,"color":"black","opacity":1,"size":220,"clip":true},"encoding":{"y":{"field":"med","type":"quantitative"}}}
]},
{"data":{"name":"outs"},"transform":[{"filter":"datum.p=='3-2'"}],"mark":{"type":"point","shape":"circle","filled":false,"color":"#0072B2","strokeWidth":2,"opacity":1,"size":130,"clip":true},"encoding":{"x":{"field":"m","type":"nominal","axis":null},"y":{"field":"v","type":"quantitative"}}}
]},
{"width":298,"height":38,"view":{"fill":"#f2f2f2","stroke":"black","strokeWidth":2},"data":{"values":[{}]},"mark":{"type":"text","text":"Cont. / Binary","fontSize":32,"color":"black"}},
{"width":298,"height":38,"view":{"fill":"#f2f2f2","stroke":"black","strokeWidth":2},"data":{"values":[{}]},"mark":{"type":"text","text":"Cont. / Binary","fontSize":32,"color":"black"}},
{"width":298,"height":38,"view":{"fill":"#f2f2f2","stroke":"black","strokeWidth":2},"data":{"values":[{}]},"mark":{"type":"text","text":"Cont. / Binary","fontSize":32,"color":"black"}},
{"width":298,"height":38,"view":{"fill":"#f2f2f2","stroke":"black","strokeWidth":2},"data":{"values":[{}]},"mark":{"type":"text","text":"N=10","fontSize":32,"color":"black"}},
{"width":298,"height":38,"view":{"fill":"#f2f2f2","stroke":"black","strokeWidth":2},"data":{"values":[{}]},"mark":{"type":"text","text":"N=30","fontSize":32,"color":"black"}},
{"width":298,"height":38,"view":{"fill":"#f2f2f2","stroke":"black","strokeWidth":2},"data":{"values":[{}]},"mark":{"type":"text","text":"N=50","fontSize":32,"color":"black"}},
{"width":298,"height":126,"layer":[
{"data":{"values":[{}]},"mark":{"type":"rule","color":"#a6a6a6","strokeWidth":1.3,"strokeDash":[2,3]},"encoding":{"y":{"datum":0.6,"type":"quantitative","scale":{"domain":[-1,1],"nice":false,"zero":false},"axis":{"orient":"left","values":[-1,0,1],"title":"ρ̂","titleFont":"DejaVu Sans","titleFontSize":28,"titleFontWeight":"normal","titleColor":"black","titleAngle":-90,"titleX":-100,"titleY":-44,"titleAlign":"center","titleBaseline":"middle"}}}},
{"data":{"name":"boxes"},"transform":[{"filter":"datum.p=='4-0'"}],"encoding":{"x":{"field":"m","type":"nominal","scale":{"type":"point","domain":["ML","MPL","cML","NPN","smooth NPN","flow NPN"],"padding":0.6},"axis":null}},"layer":[
{"mark":{"type":"rule","color":"#0072B2","strokeWidth":2,"strokeDash":[10,5],"clip":true},"encoding":{"y":{"field":"hi","type":"quantitative"},"y2":{"field":"q3"}}},
{"mark":{"type":"rule","color":"#0072B2","strokeWidth":2,"strokeDash":[10,5],"clip":true},"encoding":{"y":{"field":"lo","type":"quantitative"},"y2":{"field":"q1"}}},
{"mark":{"type":"rule","color":"#0072B2","strokeWidth":2,"strokeDash":[10,5],"xOffset":-12.5,"x2Offset":12.5,"clip":true},"encoding":{"x2":{"field":"m"},"y":{"field":"hi","type":"quantitative"}}},
{"mark":{"type":"rule","color":"#0072B2","strokeWidth":2,"strokeDash":[10,5],"xOffset":-12.5,"x2Offset":12.5,"clip":true},"encoding":{"x2":{"field":"m"},"y":{"field":"lo","type":"quantitative"}}},
{"mark":{"type":"bar","size":25,"fill":"white","fillOpacity":0,"stroke":"#0072B2","strokeWidth":2,"clip":true},"encoding":{"y":{"field":"q1","type":"quantitative"},"y2":{"field":"q3"}}},
{"mark":{"type":"point","shape":"circle","filled":true,"color":"black","opacity":1,"size":220,"clip":true},"encoding":{"y":{"field":"med","type":"quantitative"}}}
]},
{"data":{"name":"outs"},"transform":[{"filter":"datum.p=='4-0'"}],"mark":{"type":"point","shape":"circle","filled":false,"color":"#0072B2","strokeWidth":2,"opacity":1,"size":130,"clip":true},"encoding":{"x":{"field":"m","type":"nominal","axis":null},"y":{"field":"v","type":"quantitative"}}}
]},
{"width":298,"height":126,"layer":[
{"data":{"values":[{}]},"mark":{"type":"rule","color":"#a6a6a6","strokeWidth":1.3,"strokeDash":[2,3]},"encoding":{"y":{"datum":0.6,"type":"quantitative","scale":{"domain":[-1,1],"nice":false,"zero":false},"axis":null}}},
{"data":{"name":"boxes"},"transform":[{"filter":"datum.p=='4-1'"}],"encoding":{"x":{"field":"m","type":"nominal","scale":{"type":"point","domain":["ML","MPL","cML","NPN","smooth NPN","flow NPN"],"padding":0.6},"axis":null}},"layer":[
{"mark":{"type":"rule","color":"#0072B2","strokeWidth":2,"strokeDash":[10,5],"clip":true},"encoding":{"y":{"field":"hi","type":"quantitative","axis":null},"y2":{"field":"q3"}}},
{"mark":{"type":"rule","color":"#0072B2","strokeWidth":2,"strokeDash":[10,5],"clip":true},"encoding":{"y":{"field":"lo","type":"quantitative","axis":null},"y2":{"field":"q1"}}},
{"mark":{"type":"rule","color":"#0072B2","strokeWidth":2,"strokeDash":[10,5],"xOffset":-12.5,"x2Offset":12.5,"clip":true},"encoding":{"x2":{"field":"m"},"y":{"field":"hi","type":"quantitative","axis":null}}},
{"mark":{"type":"rule","color":"#0072B2","strokeWidth":2,"strokeDash":[10,5],"xOffset":-12.5,"x2Offset":12.5,"clip":true},"encoding":{"x2":{"field":"m"},"y":{"field":"lo","type":"quantitative","axis":null}}},
{"mark":{"type":"bar","size":25,"fill":"white","fillOpacity":0,"stroke":"#0072B2","strokeWidth":2,"clip":true},"encoding":{"y":{"field":"q1","type":"quantitative","axis":null},"y2":{"field":"q3"}}},
{"mark":{"type":"point","shape":"circle","filled":true,"color":"black","opacity":1,"size":220,"clip":true},"encoding":{"y":{"field":"med","type":"quantitative","axis":null}}}
]},
{"data":{"name":"outs"},"transform":[{"filter":"datum.p=='4-1'"}],"mark":{"type":"point","shape":"circle","filled":false,"color":"#0072B2","strokeWidth":2,"opacity":1,"size":130,"clip":true},"encoding":{"x":{"field":"m","type":"nominal","axis":null},"y":{"field":"v","type":"quantitative","axis":null}}}
]},
{"width":298,"height":126,"layer":[
{"data":{"values":[{}]},"mark":{"type":"rule","color":"#a6a6a6","strokeWidth":1.3,"strokeDash":[2,3]},"encoding":{"y":{"datum":0.6,"type":"quantitative","scale":{"domain":[-1,1],"nice":false,"zero":false},"axis":{"orient":"right","values":[-1,0,1],"labels":false,"title":null}}}},
{"data":{"name":"boxes"},"transform":[{"filter":"datum.p=='4-2'"}],"encoding":{"x":{"field":"m","type":"nominal","scale":{"type":"point","domain":["ML","MPL","cML","NPN","smooth NPN","flow NPN"],"padding":0.6},"axis":null}},"layer":[
{"mark":{"type":"rule","color":"#0072B2","strokeWidth":2,"strokeDash":[10,5],"clip":true},"encoding":{"y":{"field":"hi","type":"quantitative"},"y2":{"field":"q3"}}},
{"mark":{"type":"rule","color":"#0072B2","strokeWidth":2,"strokeDash":[10,5],"clip":true},"encoding":{"y":{"field":"lo","type":"quantitative"},"y2":{"field":"q1"}}},
{"mark":{"type":"rule","color":"#0072B2","strokeWidth":2,"strokeDash":[10,5],"xOffset":-12.5,"x2Offset":12.5,"clip":true},"encoding":{"x2":{"field":"m"},"y":{"field":"hi","type":"quantitative"}}},
{"mark":{"type":"rule","color":"#0072B2","strokeWidth":2,"strokeDash":[10,5],"xOffset":-12.5,"x2Offset":12.5,"clip":true},"encoding":{"x2":{"field":"m"},"y":{"field":"lo","type":"quantitative"}}},
{"mark":{"type":"bar","size":25,"fill":"white","fillOpacity":0,"stroke":"#0072B2","strokeWidth":2,"clip":true},"encoding":{"y":{"field":"q1","type":"quantitative"},"y2":{"field":"q3"}}},
{"mark":{"type":"point","shape":"circle","filled":true,"color":"black","opacity":1,"size":220,"clip":true},"encoding":{"y":{"field":"med","type":"quantitative"}}}
]},
{"data":{"name":"outs"},"transform":[{"filter":"datum.p=='4-2'"}],"mark":{"type":"point","shape":"circle","filled":false,"color":"#0072B2","strokeWidth":2,"opacity":1,"size":130,"clip":true},"encoding":{"x":{"field":"m","type":"nominal","axis":null},"y":{"field":"v","type":"quantitative"}}}
]},
{"width":298,"height":38,"view":{"fill":"#f2f2f2","stroke":"black","strokeWidth":2},"data":{"values":[{}]},"mark":{"type":"text","text":"Ordinal / Binary","fontSize":32,"color":"black"}},
{"width":298,"height":38,"view":{"fill":"#f2f2f2","stroke":"black","strokeWidth":2},"data":{"values":[{}]},"mark":{"type":"text","text":"Ordinal / Binary","fontSize":32,"color":"black"}},
{"width":298,"height":38,"view":{"fill":"#f2f2f2","stroke":"black","strokeWidth":2},"data":{"values":[{}]},"mark":{"type":"text","text":"Ordinal / Binary","fontSize":32,"color":"black"}},
{"width":298,"height":38,"view":{"fill":"#f2f2f2","stroke":"black","strokeWidth":2},"data":{"values":[{}]},"mark":{"type":"text","text":"N=10","fontSize":32,"color":"black"}},
{"width":298,"height":38,"view":{"fill":"#f2f2f2","stroke":"black","strokeWidth":2},"data":{"values":[{}]},"mark":{"type":"text","text":"N=30","fontSize":32,"color":"black"}},
{"width":298,"height":38,"view":{"fill":"#f2f2f2","stroke":"black","strokeWidth":2},"data":{"values":[{}]},"mark":{"type":"text","text":"N=50","fontSize":32,"color":"black"}},
{"width":298,"height":125,"layer":[
{"data":{"values":[{}]},"mark":{"type":"rule","color":"#a6a6a6","strokeWidth":1.3,"strokeDash":[2,3]},"encoding":{"y":{"datum":0.6,"type":"quantitative","scale":{"domain":[-1,1],"nice":false,"zero":false},"axis":{"orient":"left","values":[-1,0,1],"labels":false,"title":null}}}},
{"data":{"name":"boxes"},"transform":[{"filter":"datum.p=='5-0'"}],"encoding":{"x":{"field":"m","type":"nominal","scale":{"type":"point","domain":["ML","MPL","cML","NPN","smooth NPN","flow NPN"],"padding":0.6},"axis":null}},"layer":[
{"mark":{"type":"rule","color":"#0072B2","strokeWidth":2,"strokeDash":[10,5],"clip":true},"encoding":{"y":{"field":"hi","type":"quantitative"},"y2":{"field":"q3"}}},
{"mark":{"type":"rule","color":"#0072B2","strokeWidth":2,"strokeDash":[10,5],"clip":true},"encoding":{"y":{"field":"lo","type":"quantitative"},"y2":{"field":"q1"}}},
{"mark":{"type":"rule","color":"#0072B2","strokeWidth":2,"strokeDash":[10,5],"xOffset":-12.5,"x2Offset":12.5,"clip":true},"encoding":{"x2":{"field":"m"},"y":{"field":"hi","type":"quantitative"}}},
{"mark":{"type":"rule","color":"#0072B2","strokeWidth":2,"strokeDash":[10,5],"xOffset":-12.5,"x2Offset":12.5,"clip":true},"encoding":{"x2":{"field":"m"},"y":{"field":"lo","type":"quantitative"}}},
{"mark":{"type":"bar","size":25,"fill":"white","fillOpacity":0,"stroke":"#0072B2","strokeWidth":2,"clip":true},"encoding":{"y":{"field":"q1","type":"quantitative"},"y2":{"field":"q3"}}},
{"mark":{"type":"point","shape":"circle","filled":true,"color":"black","opacity":1,"size":220,"clip":true},"encoding":{"y":{"field":"med","type":"quantitative"}}}
]},
{"data":{"name":"outs"},"transform":[{"filter":"datum.p=='5-0'"}],"mark":{"type":"point","shape":"circle","filled":false,"color":"#0072B2","strokeWidth":2,"opacity":1,"size":130,"clip":true},"encoding":{"x":{"field":"m","type":"nominal","axis":null},"y":{"field":"v","type":"quantitative"}}}
]},
{"width":298,"height":125,"layer":[
{"data":{"values":[{}]},"mark":{"type":"rule","color":"#a6a6a6","strokeWidth":1.3,"strokeDash":[2,3]},"encoding":{"y":{"datum":0.6,"type":"quantitative","scale":{"domain":[-1,1],"nice":false,"zero":false},"axis":null}}},
{"data":{"name":"boxes"},"transform":[{"filter":"datum.p=='5-1'"}],"encoding":{"x":{"field":"m","type":"nominal","scale":{"type":"point","domain":["ML","MPL","cML","NPN","smooth NPN","flow NPN"],"padding":0.6},"axis":null}},"layer":[
{"mark":{"type":"rule","color":"#0072B2","strokeWidth":2,"strokeDash":[10,5],"clip":true},"encoding":{"y":{"field":"hi","type":"quantitative","axis":null},"y2":{"field":"q3"}}},
{"mark":{"type":"rule","color":"#0072B2","strokeWidth":2,"strokeDash":[10,5],"clip":true},"encoding":{"y":{"field":"lo","type":"quantitative","axis":null},"y2":{"field":"q1"}}},
{"mark":{"type":"rule","color":"#0072B2","strokeWidth":2,"strokeDash":[10,5],"xOffset":-12.5,"x2Offset":12.5,"clip":true},"encoding":{"x2":{"field":"m"},"y":{"field":"hi","type":"quantitative","axis":null}}},
{"mark":{"type":"rule","color":"#0072B2","strokeWidth":2,"strokeDash":[10,5],"xOffset":-12.5,"x2Offset":12.5,"clip":true},"encoding":{"x2":{"field":"m"},"y":{"field":"lo","type":"quantitative","axis":null}}},
{"mark":{"type":"bar","size":25,"fill":"white","fillOpacity":0,"stroke":"#0072B2","strokeWidth":2,"clip":true},"encoding":{"y":{"field":"q1","type":"quantitative","axis":null},"y2":{"field":"q3"}}},
{"mark":{"type":"point","shape":"circle","filled":true,"color":"black","opacity":1,"size":220,"clip":true},"encoding":{"y":{"field":"med","type":"quantitative","axis":null}}}
]},
{"data":{"name":"outs"},"transform":[{"filter":"datum.p=='5-1'"}],"mark":{"type":"point","shape":"circle","filled":false,"color":"#0072B2","strokeWidth":2,"opacity":1,"size":130,"clip":true},"encoding":{"x":{"field":"m","type":"nominal","axis":null},"y":{"field":"v","type":"quantitative","axis":null}}}
]},
{"width":298,"height":125,"layer":[
{"data":{"values":[{}]},"mark":{"type":"rule","color":"#a6a6a6","strokeWidth":1.3,"strokeDash":[2,3]},"encoding":{"y":{"datum":0.6,"type":"quantitative","scale":{"domain":[-1,1],"nice":false,"zero":false},"axis":{"orient":"right","values":[-1,0,1],"title":null}}}},
{"data":{"name":"boxes"},"transform":[{"filter":"datum.p=='5-2'"}],"encoding":{"x":{"field":"m","type":"nominal","scale":{"type":"point","domain":["ML","MPL","cML","NPN","smooth NPN","flow NPN"],"padding":0.6},"axis":null}},"layer":[
{"mark":{"type":"rule","color":"#0072B2","strokeWidth":2,"strokeDash":[10,5],"clip":true},"encoding":{"y":{"field":"hi","type":"quantitative"},"y2":{"field":"q3"}}},
{"mark":{"type":"rule","color":"#0072B2","strokeWidth":2,"strokeDash":[10,5],"clip":true},"encoding":{"y":{"field":"lo","type":"quantitative"},"y2":{"field":"q1"}}},
{"mark":{"type":"rule","color":"#0072B2","strokeWidth":2,"strokeDash":[10,5],"xOffset":-12.5,"x2Offset":12.5,"clip":true},"encoding":{"x2":{"field":"m"},"y":{"field":"hi","type":"quantitative"}}},
{"mark":{"type":"rule","color":"#0072B2","strokeWidth":2,"strokeDash":[10,5],"xOffset":-12.5,"x2Offset":12.5,"clip":true},"encoding":{"x2":{"field":"m"},"y":{"field":"lo","type":"quantitative"}}},
{"mark":{"type":"bar","size":25,"fill":"white","fillOpacity":0,"stroke":"#0072B2","strokeWidth":2,"clip":true},"encoding":{"y":{"field":"q1","type":"quantitative"},"y2":{"field":"q3"}}},
{"mark":{"type":"point","shape":"circle","filled":true,"color":"black","opacity":1,"size":220,"clip":true},"encoding":{"y":{"field":"med","type":"quantitative"}}}
]},
{"data":{"name":"outs"},"transform":[{"filter":"datum.p=='5-2'"}],"mark":{"type":"point","shape":"circle","filled":false,"color":"#0072B2","strokeWidth":2,"opacity":1,"size":130,"clip":true},"encoding":{"x":{"field":"m","type":"nominal","axis":null},"y":{"field":"v","type":"quantitative"}}}
]},
{"width":298,"height":38,"view":{"fill":"#f2f2f2","stroke":"black","strokeWidth":2},"data":{"values":[{}]},"mark":{"type":"text","text":"Binary / Binary","fontSize":32,"color":"black"}},
{"width":298,"height":38,"view":{"fill":"#f2f2f2","stroke":"black","strokeWidth":2},"data":{"values":[{}]},"mark":{"type":"text","text":"Binary / Binary","fontSize":32,"color":"black"}},
{"width":298,"height":38,"view":{"fill":"#f2f2f2","stroke":"black","strokeWidth":2},"data":{"values":[{}]},"mark":{"type":"text","text":"Binary / Binary","fontSize":32,"color":"black"}},
{"width":298,"height":38,"view":{"fill":"#f2f2f2","stroke":"black","strokeWidth":2},"data":{"values":[{}]},"mark":{"type":"text","text":"N=10","fontSize":32,"color":"black"}},
{"width":298,"height":38,"view":{"fill":"#f2f2f2","stroke":"black","strokeWidth":2},"data":{"values":[{}]},"mark":{"type":"text","text":"N=30","fontSize":32,"color":"black"}},
{"width":298,"height":38,"view":{"fill":"#f2f2f2","stroke":"black","strokeWidth":2},"data":{"values":[{}]},"mark":{"type":"text","text":"N=50","fontSize":32,"color":"black"}},
{"width":298,"height":126,"layer":[
{"data":{"values":[{}]},"mark":{"type":"rule","color":"#a6a6a6","strokeWidth":1.3,"strokeDash":[2,3]},"encoding":{"y":{"datum":0.6,"type":"quantitative","scale":{"domain":[-1,1],"nice":false,"zero":false},"axis":{"orient":"left","values":[-1,0,1],"title":null}}}},
{"data":{"name":"boxes"},"transform":[{"filter":"datum.p=='6-0'"}],"encoding":{"x":{"field":"m","type":"nominal","scale":{"type":"point","domain":["ML","MPL","cML","NPN","smooth NPN","flow NPN"],"padding":0.6},"axis":{"orient":"bottom","ticks":false,"labelAngle":-45,"labelAlign":"right","labelBaseline":"middle","labelPadding":14,"labelFontSize":25,"title":null}}},"layer":[
{"mark":{"type":"rule","color":"#0072B2","strokeWidth":2,"strokeDash":[10,5],"clip":true},"encoding":{"y":{"field":"hi","type":"quantitative"},"y2":{"field":"q3"}}},
{"mark":{"type":"rule","color":"#0072B2","strokeWidth":2,"strokeDash":[10,5],"clip":true},"encoding":{"y":{"field":"lo","type":"quantitative"},"y2":{"field":"q1"}}},
{"mark":{"type":"rule","color":"#0072B2","strokeWidth":2,"strokeDash":[10,5],"xOffset":-12.5,"x2Offset":12.5,"clip":true},"encoding":{"x2":{"field":"m"},"y":{"field":"hi","type":"quantitative"}}},
{"mark":{"type":"rule","color":"#0072B2","strokeWidth":2,"strokeDash":[10,5],"xOffset":-12.5,"x2Offset":12.5,"clip":true},"encoding":{"x2":{"field":"m"},"y":{"field":"lo","type":"quantitative"}}},
{"mark":{"type":"bar","size":25,"fill":"white","fillOpacity":0,"stroke":"#0072B2","strokeWidth":2,"clip":true},"encoding":{"y":{"field":"q1","type":"quantitative"},"y2":{"field":"q3"}}},
{"mark":{"type":"point","shape":"circle","filled":true,"color":"black","opacity":1,"size":220,"clip":true},"encoding":{"y":{"field":"med","type":"quantitative"}}}
]},
{"data":{"name":"outs"},"transform":[{"filter":"datum.p=='6-0'"}],"mark":{"type":"point","shape":"circle","filled":false,"color":"#0072B2","strokeWidth":2,"opacity":1,"size":130,"clip":true},"encoding":{"x":{"field":"m","type":"nominal"},"y":{"field":"v","type":"quantitative"}}}
]},
{"width":298,"height":126,"layer":[
{"data":{"values":[{}]},"mark":{"type":"rule","color":"#a6a6a6","strokeWidth":1.3,"strokeDash":[2,3]},"encoding":{"y":{"datum":0.6,"type":"quantitative","scale":{"domain":[-1,1],"nice":false,"zero":false},"axis":null}}},
{"data":{"name":"boxes"},"transform":[{"filter":"datum.p=='6-1'"}],"encoding":{"x":{"field":"m","type":"nominal","scale":{"type":"point","domain":["ML","MPL","cML","NPN","smooth NPN","flow NPN"],"padding":0.6},"axis":{"orient":"bottom","ticks":false,"labelAngle":-45,"labelAlign":"right","labelBaseline":"middle","labelPadding":14,"labelFontSize":25,"title":null}}},"layer":[
{"mark":{"type":"rule","color":"#0072B2","strokeWidth":2,"strokeDash":[10,5],"clip":true},"encoding":{"y":{"field":"hi","type":"quantitative","axis":null},"y2":{"field":"q3"}}},
{"mark":{"type":"rule","color":"#0072B2","strokeWidth":2,"strokeDash":[10,5],"clip":true},"encoding":{"y":{"field":"lo","type":"quantitative","axis":null},"y2":{"field":"q1"}}},
{"mark":{"type":"rule","color":"#0072B2","strokeWidth":2,"strokeDash":[10,5],"xOffset":-12.5,"x2Offset":12.5,"clip":true},"encoding":{"x2":{"field":"m"},"y":{"field":"hi","type":"quantitative","axis":null}}},
{"mark":{"type":"rule","color":"#0072B2","strokeWidth":2,"strokeDash":[10,5],"xOffset":-12.5,"x2Offset":12.5,"clip":true},"encoding":{"x2":{"field":"m"},"y":{"field":"lo","type":"quantitative","axis":null}}},
{"mark":{"type":"bar","size":25,"fill":"white","fillOpacity":0,"stroke":"#0072B2","strokeWidth":2,"clip":true},"encoding":{"y":{"field":"q1","type":"quantitative","axis":null},"y2":{"field":"q3"}}},
{"mark":{"type":"point","shape":"circle","filled":true,"color":"black","opacity":1,"size":220,"clip":true},"encoding":{"y":{"field":"med","type":"quantitative","axis":null}}}
]},
{"data":{"name":"outs"},"transform":[{"filter":"datum.p=='6-1'"}],"mark":{"type":"point","shape":"circle","filled":false,"color":"#0072B2","strokeWidth":2,"opacity":1,"size":130,"clip":true},"encoding":{"x":{"field":"m","type":"nominal"},"y":{"field":"v","type":"quantitative","axis":null}}}
]},
{"width":298,"height":126,"layer":[
{"data":{"values":[{}]},"mark":{"type":"rule","color":"#a6a6a6","strokeWidth":1.3,"strokeDash":[2,3]},"encoding":{"y":{"datum":0.6,"type":"quantitative","scale":{"domain":[-1,1],"nice":false,"zero":false},"axis":{"orient":"right","values":[-1,0,1],"labels":false,"title":null}}}},
{"data":{"name":"boxes"},"transform":[{"filter":"datum.p=='6-2'"}],"encoding":{"x":{"field":"m","type":"nominal","scale":{"type":"point","domain":["ML","MPL","cML","NPN","smooth NPN","flow NPN"],"padding":0.6},"axis":{"orient":"bottom","ticks":false,"labelAngle":-45,"labelAlign":"right","labelBaseline":"middle","labelPadding":14,"labelFontSize":25,"title":null}}},"layer":[
{"mark":{"type":"rule","color":"#0072B2","strokeWidth":2,"strokeDash":[10,5],"clip":true},"encoding":{"y":{"field":"hi","type":"quantitative"},"y2":{"field":"q3"}}},
{"mark":{"type":"rule","color":"#0072B2","strokeWidth":2,"strokeDash":[10,5],"clip":true},"encoding":{"y":{"field":"lo","type":"quantitative"},"y2":{"field":"q1"}}},
{"mark":{"type":"rule","color":"#0072B2","strokeWidth":2,"strokeDash":[10,5],"xOffset":-12.5,"x2Offset":12.5,"clip":true},"encoding":{"x2":{"field":"m"},"y":{"field":"hi","type":"quantitative"}}},
{"mark":{"type":"rule","color":"#0072B2","strokeWidth":2,"strokeDash":[10,5],"xOffset":-12.5,"x2Offset":12.5,"clip":true},"encoding":{"x2":{"field":"m"},"y":{"field":"lo","type":"quantitative"}}},
{"mark":{"type":"bar","size":25,"fill":"white","fillOpacity":0,"stroke":"#0072B2","strokeWidth":2,"clip":true},"encoding":{"y":{"field":"q1","type":"quantitative"},"y2":{"field":"q3"}}},
{"mark":{"type":"point","shape":"circle","filled":true,"color":"black","opacity":1,"size":220,"clip":true},"encoding":{"y":{"field":"med","type":"quantitative"}}}
]},
{"data":{"name":"outs"},"transform":[{"filter":"datum.p=='6-2'"}],"mark":{"type":"point","shape":"circle","filled":false,"color":"#0072B2","strokeWidth":2,"opacity":1,"size":130,"clip":true},"encoding":{"x":{"field":"m","type":"nominal"},"y":{"field":"v","type":"quantitative"}}}
]}
],
"config": {
"font": "Liberation Sans",
"view": {"stroke": "black", "strokeWidth": 2},
"axis": {"tickSize": 16, "tickWidth": 2, "tickColor": "black", "domain": false, "grid": false, "labelFontSize": 24, "labelColor": "black", "labelPadding": 13, "labelFlush": false, "labelOverlap": false, "labelExpr": "'' + datum.value", "labelFont": "Liberation Sans", "titleFont": "Liberation Sans"}
}
}
